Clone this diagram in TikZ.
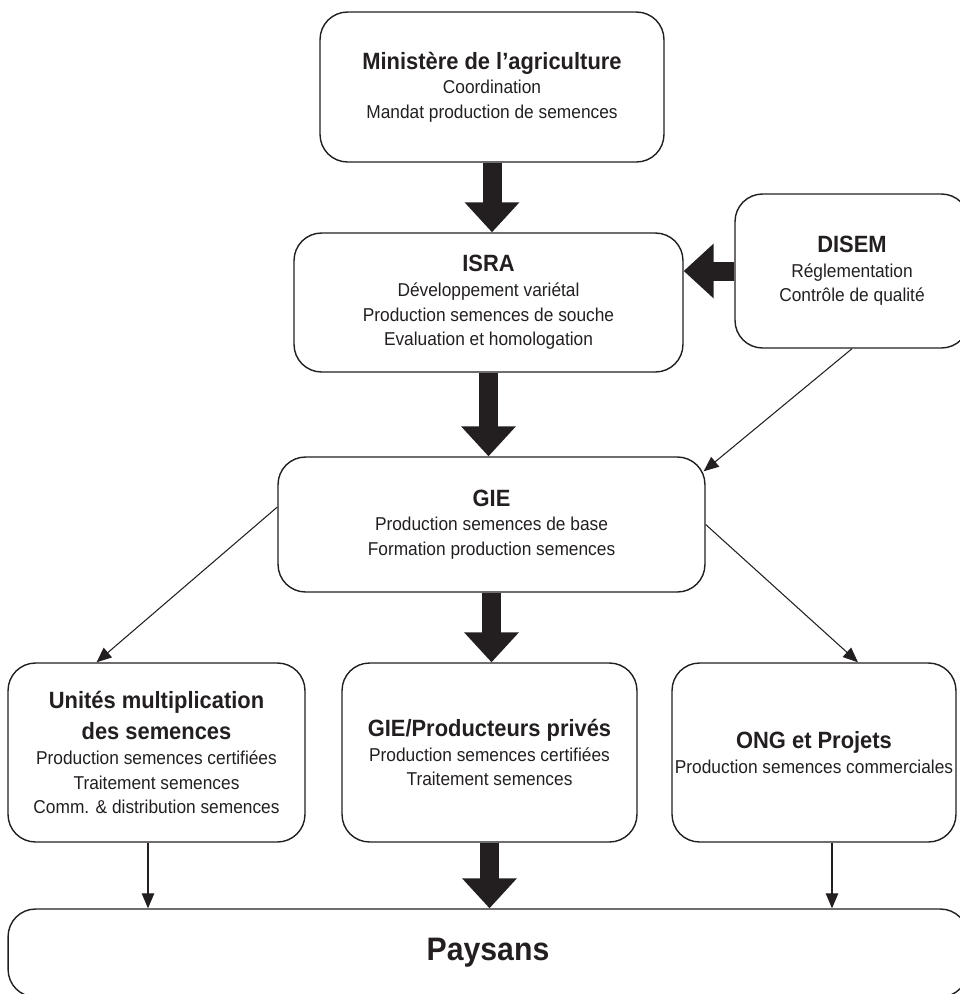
\documentclass[tikz,border=0pt]{standalone}
\usepackage{fontspec}
\setmainfont{Liberation Sans}[FakeStretch=0.93]
\usepackage{tikz}
\usetikzlibrary{positioning}
\usetikzlibrary{arrows.meta}
\definecolor{ink}{RGB}{35,31,32}
\newcommand{\boxhead}[1]{{\fontsize{13.4}{14}\selectfont\bfseries #1}}

\begin{document}
\begin{tikzpicture}
 [ x=0.02cm
 , y=-0.02cm
 , every node/.style={font=\fontsize{10.6}{14}\selectfont, text=ink}
 , actor/.style={draw=ink, line width=0.8pt, rounded corners=0.55cm, align=center, inner sep=0pt}
 , big flow/.style={draw=ink, line width=0.38cm, -{Triangle[length=0.6cm, width=1.06cm]}}
 , small flow/.style={draw=ink, line width=0.6pt, -{Triangle[length=0.3cm, width=0.25cm]}}
 ]
  \useasboundingbox (0,0) rectangle (960,994);

  % the chain down the middle
  \node [actor, minimum width=6.88cm, minimum height=3cm] (ministere) at (492,87)
    {\boxhead{Ministère de l'agriculture}\\ Coordination\\ Mandat production de semences};
  \node [actor, minimum width=7.78cm, minimum height=2.78cm] (isra) at (488.5,302.5)
    {\boxhead{ISRA}\\ Développement variétal\\ Production semences de souche\\ Evaluation et homologation};
  \node [actor, minimum width=4.68cm, minimum height=3.08cm] (disem) at (852,271)
    {\boxhead{DISEM}\\ Réglementation\\ Contrôle de qualité};
  \node [actor, minimum width=8.54cm, minimum height=2.7cm] (gie) at (491.5,524.5)
    {\boxhead{GIE}\\ Production semences de base\\ Formation production semences};

  % the three producers
  \node [actor, minimum width=5.94cm, minimum height=3.58cm] (unites) at (156.5,752.5)
    {\boxhead{Unités multiplication}\\[4pt] \boxhead{des semences}\\ Production semences certifiées\\ Traitement semences\\ Comm. \& distribution semences};
  \node [actor, minimum width=5.9cm, minimum height=3.58cm] (prives) at (489.5,752.5)
    {\boxhead{GIE/Producteurs privés}\\ Production semences certifiées\\ Traitement semences};
  \node [actor, minimum width=5.68cm, minimum height=3.58cm] (ong) at (814,752.5)
    {\boxhead{ONG et Projets}\\ Production semences commerciales};

  \node [actor, minimum width=19.2cm, minimum height=1.76cm, font=\fontsize{18.5}{20}\selectfont\bfseries] (paysans) at (488,953) {Paysans};

  \coordinate (udrop) at ([xshift=-0.17cm]unites.south);
  \coordinate (odrop) at ([xshift=0.36cm]ong.south);

  \draw [big flow] (ministere.south) -- (ministere.south |- isra.north);
  \draw [big flow] (isra.south) -- (isra.south |- gie.north);
  \draw [big flow] (gie.south) -- (gie.south |- prives.north);
  \draw [big flow] (prives.south) -- (prives.south |- paysans.north);
  \draw [big flow] (disem.west) -- (disem.west -| isra.east);

  \draw [small flow] (disem.south) -- ([xshift=-0.04cm, yshift=-0.3cm]gie.north east);
  \draw [small flow] ([yshift=0.35cm]gie.west) -- ([xshift=-1.2cm]unites.north);
  \draw [small flow] (gie.east) -- ([xshift=0.88cm]ong.north);
  \draw [small flow] (udrop) -- (udrop |- paysans.north);
  \draw [small flow] (odrop) -- (odrop |- paysans.north);
\end{tikzpicture}
\end{document}
